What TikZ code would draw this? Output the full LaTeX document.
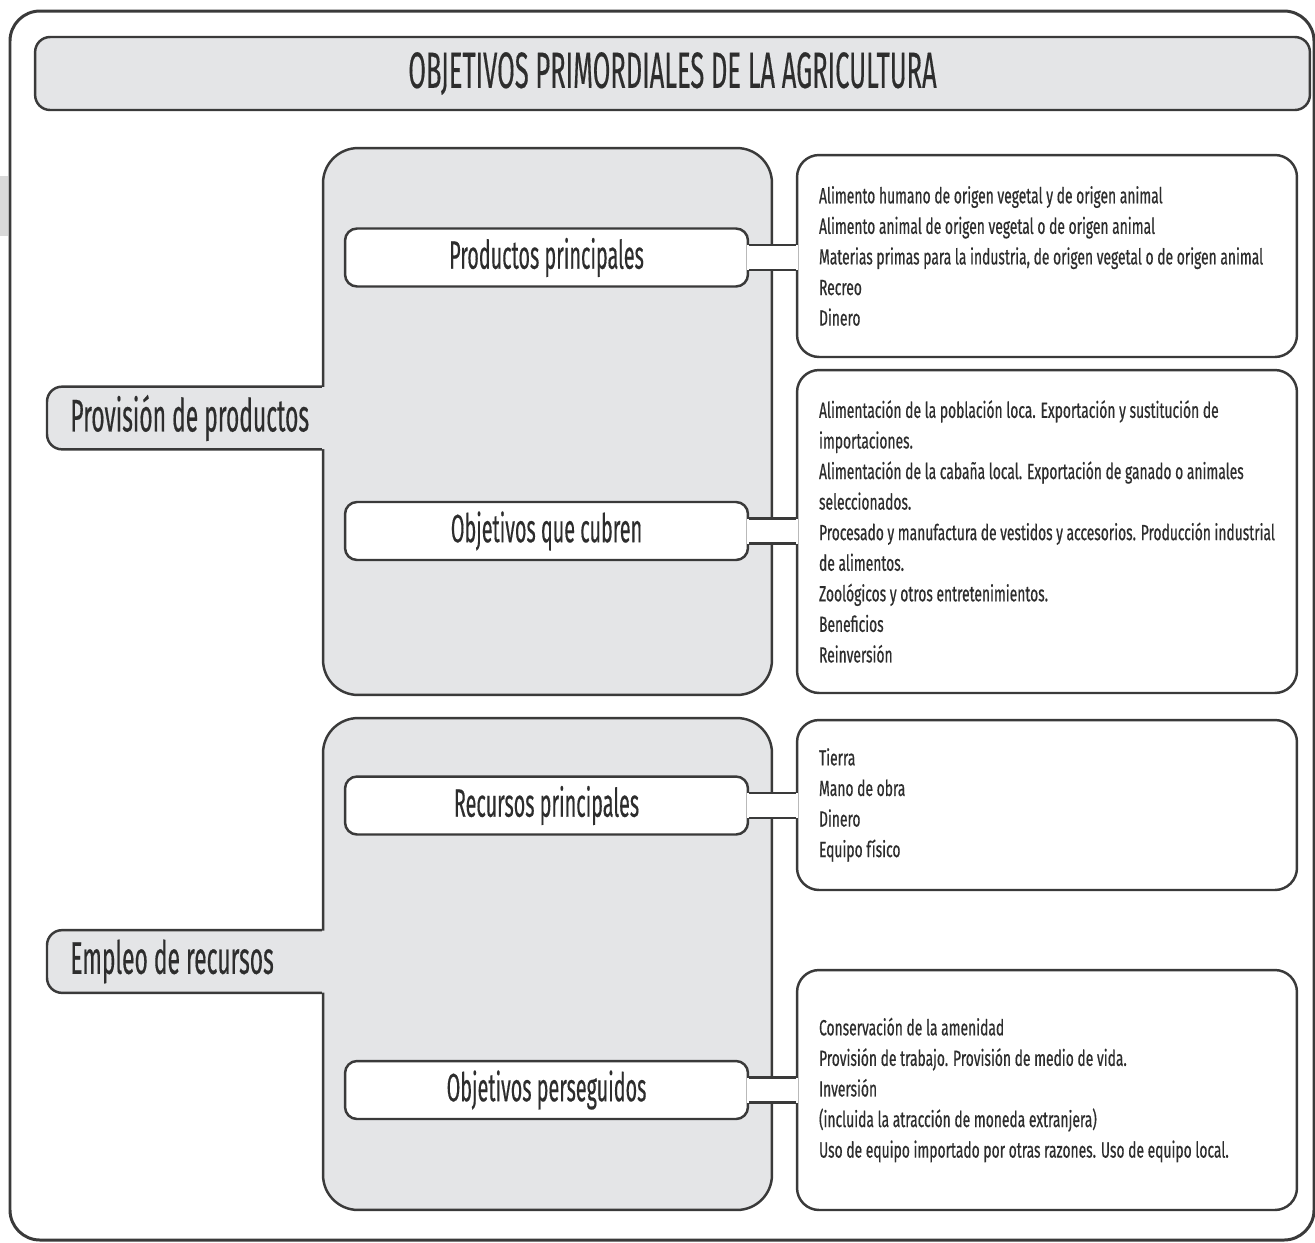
\documentclass[tikz,border=0pt]{standalone}
\usepackage{fontspec}
\usepackage{tikz}
\usetikzlibrary{calc,positioning,backgrounds}
\newfontfamily\condfont[FakeStretch=0.5, FakeBold=0.3]{Fira Sans}
\newfontfamily\listfont[FakeStretch=0.63, FakeBold=0.5]{Fira Sans}
\newcommand\singuion{\hyphenpenalty=10000 }
\definecolor{panelgris}{RGB}{228,229,231}
\definecolor{bordegris}{RGB}{58,58,58}
\definecolor{textogris}{RGB}{45,45,45}
\tikzset{
  linea/.style  ={draw=bordegris, line width=1.4pt},
  marco/.style  ={draw=bordegris, line width=1.7pt, rounded corners=0.6cm},
  titulo/.style ={rectangle, rounded corners=0.3cm, linea, fill=panelgris,
                  minimum width=25.5cm, minimum height=1.46cm, inner sep=0pt,
                  font=\condfont\fontsize{29}{30}\selectfont, text=textogris},
  panel/.style  ={rectangle, rounded corners=0.7cm, linea, fill=panelgris,
                  minimum width=8.98cm, inner sep=0pt},
  etiqueta/.style={rectangle, rounded corners=0.24cm, linea, fill=white,
                  minimum width=8.06cm, minimum height=1.16cm, inner sep=0pt,
                  font=\condfont\fontsize{22.5}{24}\selectfont, text=textogris},
  lista/.style  ={rectangle, rounded corners=0.44cm, linea, fill=white,
                  minimum width=10cm, inner xsep=0.44cm, inner ysep=0pt,
                  text width=9.12cm, align=flush left,
                  font=\listfont\fontsize{12.5}{17.4}\selectfont\singuion,
                  text=textogris},
  pestana/.style={rectangle, rounded corners=0.3cm, fill=panelgris, anchor=west,
                  minimum width=6.26cm, minimum height=1.24cm, inner xsep=0.46cm,
                  text width=5.34cm, align=flush left,
                  font=\condfont\fontsize{26}{28}\selectfont, text=textogris},
}

\begin{document}
\begin{tikzpicture}[x=0.02cm, y=-0.02cm]
  \useasboundingbox (0,0) rectangle (1315,1242);
  \fill[gray!30] (0,176) rectangle (8,236);
  \draw[marco] (10,11) rectangle (1314,1240);
  \node[titulo] (titulo) at (672.5,73.5) {OBJETIVOS PRIMORDIALES DE LA AGRICULTURA};
  % paneles grises
  \node[panel, minimum height=10.94cm] (prod) at (547.5,421.5) {};
  \node[panel, minimum height=9.84cm]  (recu) at (547.5,964) {};
  % pestanas de la izquierda
  \node[pestana] (prov) at (47,418)   {Provisión de productos};
  \node[pestana] (empl) at (47,961.5) {Empleo de recursos};
  \foreach \t/\p in {prov/prod, empl/recu} {
    \draw[linea, rounded corners=0.3cm] (\p.west |- \t.north) -- (\t.north west)
      -- (\t.south west) -- (\p.west |- \t.south);
  }
  % etiquetas blancas
  \node[etiqueta] (pp) at (546.5,257.5) {Productos principales};
  \node[etiqueta] (oc) at (546.5,531)   {Objetivos que cubren};
  \node[etiqueta] (rp) at (546.5,805.5) {Recursos principales};
  \node[etiqueta] (op) at (546.5,1090)  {Objetivos perseguidos};
  % listas
  \node[lista, minimum height=4.04cm] (b1) at (1047,256) {Alimento humano de origen vegetal y de origen animal\\
    Alimento animal de origen vegetal o de origen animal\\
    Materias primas para la industria, de origen vegetal o de origen animal\\
    Recreo\\
    Dinero\\[-0.1cm]};
  \node[lista, minimum height=6.46cm] (b2) at (1047,531.5) {Alimentación de la población loca. Exportación y sustitución de\\
    importaciones.\\
    Alimentación de la cabaña local. Exportación de ganado o animales\\
    seleccionados.\\
    Procesado y manufactura de vestidos y accesorios. Producción industrial\\
    de alimentos.\\
    Zoológicos y otros entretenimientos.\\
    Beneficios\\
    Reinversión};
  \node[lista, minimum height=3.4cm] (b3) at (1047,805) {Tierra\\
    Mano de obra\\
    Dinero\\
    Equipo físico};
  \node[lista, minimum height=4.8cm] (b4) at (1047,1090) {Conservación de la amenidad\\
    Provisión de trabajo. Provisión de medio de vida.\\
    Inversión\\
    (incluida la atracción de moneda extranjera)\\
    Uso de equipo importado por otras razones. Uso de equipo local.\\[0.3cm]};
  % conectores
  \foreach \a/\b in {pp/b1, oc/b2, rp/b3, op/b4} {
    \fill[white] ($(\a.east)+(-1.2pt,0.25cm)$) rectangle ($(\a.east -| \b.west)+(1.2pt,-0.25cm)$);
    \draw[linea] ($(\a.east)+(0,0.25cm)$) -- ($(\a.east -| \b.west)+(0,0.25cm)$);
    \draw[linea] ($(\a.east)+(0,-0.25cm)$) -- ($(\a.east -| \b.west)+(0,-0.25cm)$);
  }
\end{tikzpicture}
\end{document}
